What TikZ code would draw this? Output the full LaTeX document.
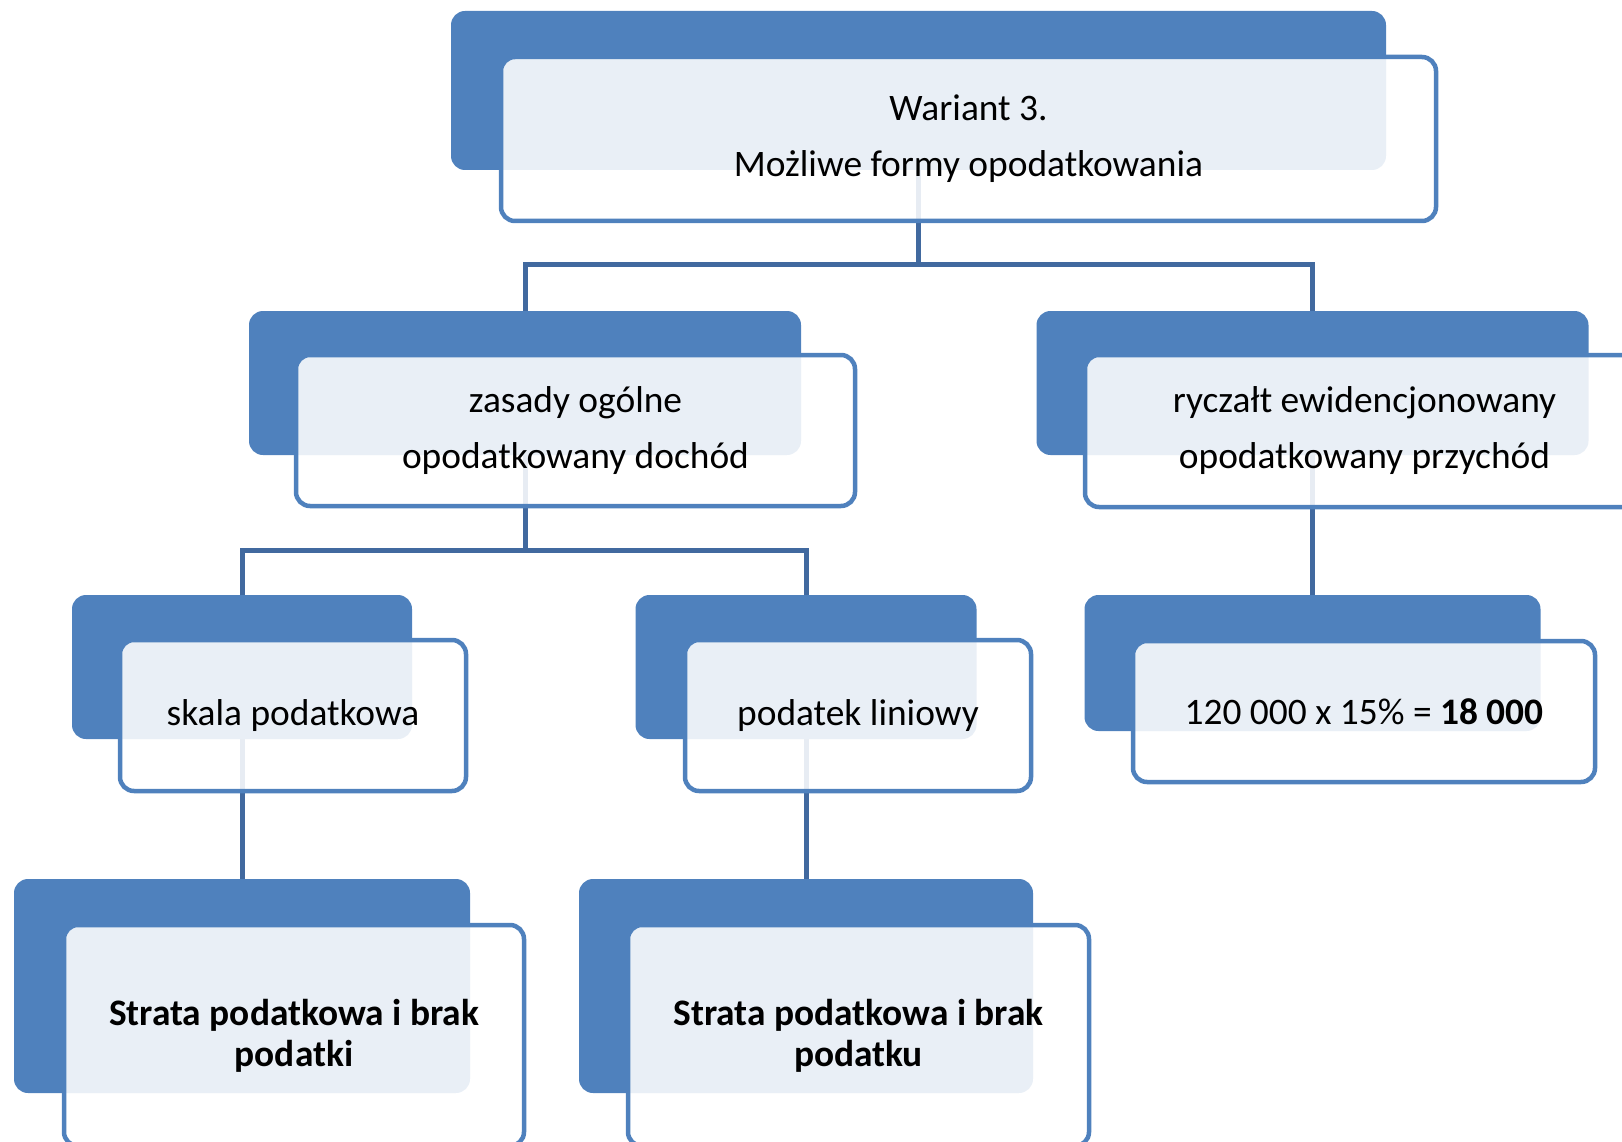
\documentclass[tikz,border=0pt]{standalone}
\usepackage{fontspec}
\setmainfont{Carlito}
\usetikzlibrary{calc}
\definecolor{accent}{HTML}{4F81BD}
\definecolor{linkc}{HTML}{41699F}
\pgfdeclarelayer{links}
\pgfsetlayers{links,main}
\tikzset{
  back/.style={fill=accent, draw=none, rounded corners=14pt, inner sep=0pt},
  front/.style={draw=accent, line width=4.5pt, fill=white, fill opacity=0.88,
    text opacity=1, rounded corners=14pt, inner sep=0pt, align=center,
    font=\fontsize{37.4}{56}\selectfont},
  boldtxt/.style={font=\fontsize{37.4}{41}\selectfont\bfseries},
  link/.style={draw=linkc, line width=5pt},
}
\begin{document}
\begin{tikzpicture}[x=1pt, y=-1pt]
\useasboundingbox (0,0) rectangle (1622,1142);
\clip (0,0) rectangle (1622,1142);

% back plates
\node[back, minimum width=935pt, minimum height=159pt] (tD) at (918.5,90.5) {};
\node[back, minimum width=552pt, minimum height=144pt] (zD) at (525,383) {};
\node[back, minimum width=552pt, minimum height=144pt] (rD) at (1312.5,383) {};
\node[back, minimum width=340pt, minimum height=144pt] (sD) at (242,667) {};
\node[back, minimum width=341pt, minimum height=144pt] (lD) at (806,667) {};
\node[back, minimum width=456pt, minimum height=136pt] (oD) at (1312.5,663) {};
\node[back, minimum width=456pt, minimum height=214pt] (aD) at (242,986) {};
\node[back, minimum width=454pt, minimum height=214pt] (bD) at (806,986) {};

% front cards
\node[front, minimum width=935pt, minimum height=164pt] (tF) at (968.5,139)
  {Wariant 3.\\Możliwe formy opodatkowania};
\node[front, minimum width=559pt, minimum height=151pt] (zF) at (575.5,430.5)
  {zasady ogólne\\opodatkowany dochód};
\node[front, minimum width=559pt, minimum height=152pt] (rF) at (1364.5,431)
  {ryczałt ewidencjonowany\\opodatkowany przychód};
\node[front, minimum width=346pt, minimum height=151pt] (sF) at (293,715.5)
  {skala podatkowa};
\node[front, minimum width=346pt, minimum height=151pt] (lF) at (858,715.5)
  {podatek liniowy};
\node[front, minimum width=462pt, minimum height=141pt] (oF) at (1364,711.5)
  {120 000 x 15\% = \textbf{18 000}};
\node[front, boldtxt, minimum width=460pt, minimum height=221pt] (aF) at (294,1035.5)
  {Strata podatkowa i brak\\podatki};
\node[front, boldtxt, minimum width=461pt, minimum height=221pt] (bF) at (858.5,1035.5)
  {Strata podatkowa i brak\\podatku};

% connectors
\coordinate (bus0) at (918.5,264);
\coordinate (bus1) at (525,550);
\begin{pgfonlayer}{links}
  \draw[link] (tD.south) -- (bus0);
  \draw[link] (zD.north) |- (bus0) -| (rD.north);
  \draw[link] (zD.south) -- (bus1);
  \draw[link] (sD.north) |- (bus1) -| (lD.north);
  \draw[link] (rD.south) -- (oD.north);
  \draw[link] (sD.south) -- (aD.north);
  \draw[link] (lD.south) -- (bD.north);
\end{pgfonlayer}
\end{tikzpicture}
\end{document}
